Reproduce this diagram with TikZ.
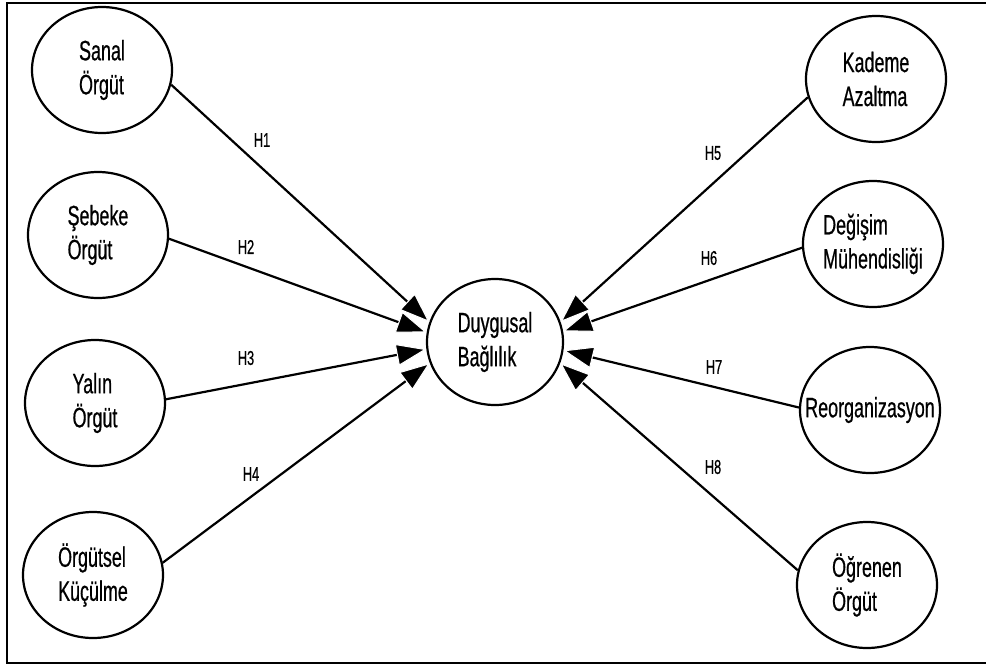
\documentclass[tikz,border=0pt]{standalone}
\usepackage{fontspec}
\setmainfont{Liberation Sans}[FakeStretch=0.64,FakeBold=0.6]
\usetikzlibrary{arrows.meta,shapes.geometric}

\begin{document}
\begin{tikzpicture}[x=1pt,y=-1pt,
  var/.style={draw, line width=2.2pt, ellipse, minimum width=140pt,
    minimum height=126pt, inner sep=-16pt, align=left,
    font=\fontsize{28}{34}\selectfont},
  link/.style={line width=2.2pt,
    -{Triangle[length=30pt,width=22pt,fill=black,color=white,line width=1pt]}},
  hyp/.style={font=\fontsize{20}{22}\selectfont, inner sep=0pt}]

\useasboundingbox (0,0) rectangle (986,665);
\draw[line width=2.2pt] (7,3) rectangle (1000,663);

% central construct
\node[var, minimum width=136pt] (dc) at (495,342) {Duygusal\\Bağlılık};

% left-hand constructs
\node[var] (sanal)    at (102,70)  {Sanal\\Örgüt};
\node[var] (sebeke)   at (98,235)  {Şebeke\\Örgüt};
\node[var] (yalin)    at (95,403)  {Yalın\\Örgüt};
\node[var] (orgutsel) at (93,575)  {Örgütsel\\Küçülme};

% right-hand constructs
\node[var] (kademe)   at (876,79)  {Kademe\\Azaltma};
\node[var] (degisim)  at (873,244) {Değişim\\Mühendisliği};
\node[var] (reorg)    at (870,410) {Reorganizasyon};
\node[var] (ogrenen)  at (867,585) {Öğrenen\\Örgüt};

% hypothesised paths
\draw[link] (sanal.-12)    -- (dc.163);
\draw[link] (sebeke.-3)    -- (dc.172);
\draw[link] (yalin.3)      -- (dc.186);
\draw[link] (orgutsel.10)  -- (dc.198);
\draw[link] (kademe.195)   -- (dc.17);
\draw[link] (degisim.183)  -- (dc.9);
\draw[link] (reorg.178)    -- (dc.353);
\draw[link] (ogrenen.168)  -- (dc.342);

% hypothesis labels
\node[hyp] (h1) at (262,140) {H1};
\node[hyp] (h2) at (246,247) {H2};
\node[hyp] (h3) at (246,358) {H3};
\node[hyp] (h4) at (251,474) {H4};
\node[hyp] (h5) at (713,153) {H5};
\node[hyp] (h6) at (709,258) {H6};
\node[hyp] (h7) at (714,367) {H7};
\node[hyp] (h8) at (713,467) {H8};
\end{tikzpicture}
\end{document}
